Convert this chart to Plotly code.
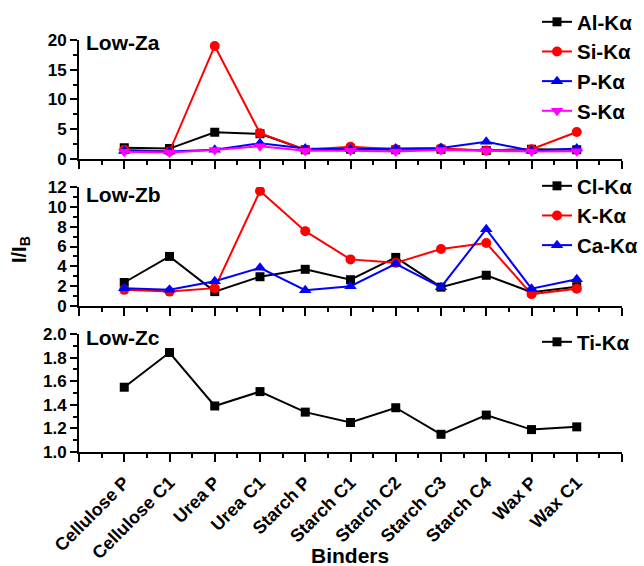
import plotly.graph_objects as go

# ---------------- data ----------------
categories = ["Cellulose P", "Cellulose C1", "Urea P", "Urea C1", "Starch P",
              "Starch C1", "Starch C2", "Starch C3", "Starch C4", "Wax P", "Wax C1"]

# Low-Za
al_ka = [1.85, 1.7, 4.45, 4.2, 1.5, 1.6, 1.5, 1.6, 1.4, 1.6, 1.5]
si_ka = [1.5, 1.2, 19.0, 4.3, 1.5, 2.0, 1.6, 1.7, 1.4, 1.6, 4.5]
p_ka = [1.3, 1.2, 1.5, 2.6, 1.7, 1.6, 1.7, 1.8, 2.85, 1.35, 1.7]
s_ka = [1.15, 1.05, 1.45, 2.1, 1.35, 1.35, 1.2, 1.45, 1.35, 1.2, 1.25]

# Low-Zb
cl_ka = [2.37, 5.0, 1.45, 2.95, 3.7, 2.65, 4.9, 1.9, 3.1, 1.4, 1.95]
k_ka = [1.63, 1.45, 1.8, 11.6, 7.55, 4.7, 4.35, 5.75, 6.35, 1.2, 1.75]
ca_ka = [1.8, 1.65, 2.5, 3.85, 1.6, 2.0, 4.25, 1.9, 7.75, 1.75, 2.7]

# Low-Zc
ti_ka = [1.549, 1.843, 1.39, 1.512, 1.338, 1.25, 1.375, 1.15, 1.313, 1.19, 1.213]

FONT = "Liberation Sans, Arial, sans-serif"
W, H = 644, 566

n = len(categories)
x_idx = list(range(n))

fig = go.Figure()


def add(name, y, color, symbol, size, ax, legend):
    fig.add_trace(go.Scatter(
        x=x_idx, y=y, name=name, mode="lines+markers",
        line=dict(color=color, width=2),
        marker=dict(symbol=symbol, size=size, color=color, line=dict(width=0)),
        xaxis="x" + ax, yaxis="y" + ax, legend=legend, legendgroup=name,
    ))


add("Al-Kα", al_ka, "#000000", "square", 9, "", "legend")
add("Si-Kα", si_ka, "#ff0000", "circle", 10, "", "legend")
add("P-Kα", p_ka, "#0000ff", "triangle-up", 11, "", "legend")
add("S-Kα", s_ka, "#ff00ff", "triangle-down", 11, "", "legend")

add("Cl-Kα", cl_ka, "#000000", "square", 9, "2", "legend2")
add("K-Kα", k_ka, "#ff0000", "circle", 10, "2", "legend2")
add("Ca-Kα", ca_ka, "#0000ff", "triangle-up", 11, "2", "legend2")

add("Ti-Kα", ti_ka, "#000000", "square", 9, "3", "legend3")

tick_font = dict(family=FONT, size=17, color="black", weight="bold")

x_domain = [79 / W, 622 / W]
major_x = list(range(-1, n + 1))
minor_x = [i + 0.5 for i in range(-1, n)]


def xaxis(anchor, labels):
    ax = dict(
        domain=x_domain, anchor=anchor, range=[-1, n],
        tickmode="array", tickvals=major_x,
        ticks="outside", ticklen=8, tickwidth=2, tickcolor="black",
        showline=True, linewidth=2, linecolor="black",
        showgrid=False, zeroline=False,
        minor=dict(tickmode="array", tickvals=minor_x, ticks="outside",
                   ticklen=4, tickwidth=2, tickcolor="black", showgrid=False),
    )
    if labels:
        ax.update(ticktext=[""] + categories + [""], tickangle=-45,
                  ticklabelstandoff=3,
                  tickfont=dict(family=FONT, size=18, color="black", weight="bold"))
    else:
        ax.update(showticklabels=False)
    return ax


def yaxis(anchor, top_px, bot_px, rng, dtick, mdtick, fmt):
    return dict(
        domain=[1 - bot_px / H, 1 - top_px / H], anchor=anchor, range=rng,
        tickmode="linear", tick0=rng[0], dtick=dtick, tickformat=fmt,
        ticks="outside", ticklen=7, tickwidth=2, tickcolor="black",
        showline=True, linewidth=2, linecolor="black",
        showgrid=False, zeroline=False, tickfont=tick_font,
        minor=dict(dtick=mdtick, tick0=rng[0], ticks="outside", ticklen=4,
                   tickwidth=2, tickcolor="black", showgrid=False),
    )


leg_font = dict(family=FONT, size=20.5, color="black", weight="bold")


def legend(y_top_px):
    return dict(x=537 / W, xanchor="left", y=1 - y_top_px / H, yanchor="top",
                bgcolor="rgba(0,0,0,0)", font=leg_font, tracegroupgap=0,
                itemwidth=30)


ann_font = dict(family=FONT, size=21, color="black", weight="bold")

fig.update_layout(
    width=W, height=H, autosize=False,
    margin=dict(l=0, r=0, t=0, b=0, autoexpand=False),
    paper_bgcolor="white", plot_bgcolor="white",
    showlegend=True,
    xaxis=xaxis("y", False),
    xaxis2=xaxis("y2", False),
    xaxis3=xaxis("y3", True),
    yaxis=yaxis("x", 40, 158.7, [0, 20], 5, 2.5, "d"),
    yaxis2=yaxis("x2", 187, 306, [0, 12], 2, 1, "d"),
    yaxis3=yaxis("x3", 334, 452, [1.0, 2.0], 0.2, 0.1, ".1f"),
    legend=legend(2),
    legend2=legend(166),
    legend3=legend(322),
    annotations=[
        dict(text="Low-Za", x=84 / W, y=1 - 43 / H, xref="paper", yref="paper",
             xanchor="left", yanchor="middle", showarrow=False, font=ann_font),
        dict(text="Low-Zb", x=84 / W, y=1 - 194 / H, xref="paper", yref="paper",
             xanchor="left", yanchor="middle", showarrow=False, font=ann_font),
        dict(text="Low-Zc", x=84 / W, y=1 - 337 / H, xref="paper", yref="paper",
             xanchor="left", yanchor="middle", showarrow=False, font=ann_font),
        dict(text="I/I<sub>B</sub>", x=20 / W, y=1 - 250 / H, xref="paper", yref="paper",
             xanchor="center", yanchor="middle", showarrow=False, textangle=-90,
             font=dict(family=FONT, size=20, color="black", weight="bold")),
        dict(text="Binders", x=350 / W, y=1 - 555 / H, xref="paper", yref="paper",
             xanchor="center", yanchor="middle", showarrow=False,
             font=dict(family=FONT, size=21, color="black", weight="bold")),
    ],
)

fig.write_html(
    "out.html",
    config={"displayModeBar": False},
    post_script="document.body.style.margin='0';document.body.style.overflow='hidden';",
)
